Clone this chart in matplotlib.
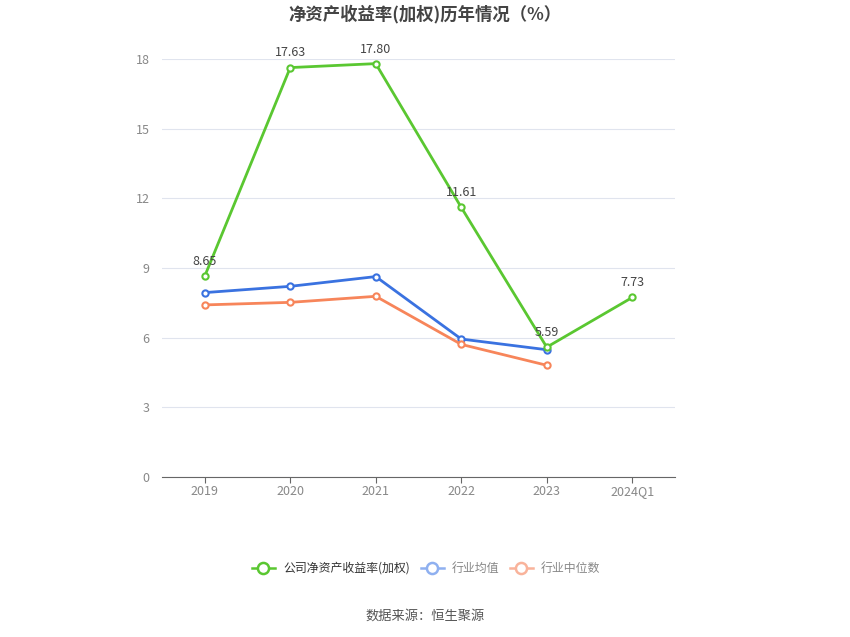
import matplotlib.pyplot as plt

plt.rcParams['font.family'] = ['Noto Sans CJK SC', 'DejaVu Sans']

# -----------------------------------------
# DATA
# -----------------------------------------
years = ["2019", "2020", "2021", "2022", "2023", "2024Q1"]
company = [8.65, 17.63, 17.80, 11.61, 5.59, 7.73]
industry_avg = [7.94, 8.21, 8.63, 5.94, 5.48]
industry_median = [7.41, 7.52, 7.78, 5.71, 4.81]
yticks = [0, 3, 6, 9, 12, 15, 18]

green = "#5ac731"
blue = "#3a72e0"
orange = "#f7855a"

# -----------------------------------------
# PLOT
# -----------------------------------------
fig = plt.figure(figsize=(8.5, 6.37), dpi=100)
ax = fig.add_axes([0.1906, 0.2512, 0.6035, 0.6562])

x = list(range(len(years)))

ax.plot(x[:len(industry_avg)], industry_avg, color=blue, lw=2, marker='o', ms=4.5,
        mfc='white', mec=blue, mew=1.5, zorder=3)
ax.plot(x[:len(industry_median)], industry_median, color=orange, lw=2, marker='o', ms=4.5,
        mfc='white', mec=orange, mew=1.5, zorder=3)
ax.plot(x, company, color=green, lw=2, marker='o', ms=4.5,
        mfc='white', mec=green, mew=1.5, zorder=4)

for xi, v in zip(x, company):
    ax.text(xi, v + 0.35, f"{v:.2f}", ha='center', va='bottom', fontsize=9, color='#444444', zorder=5)

ax.set_xlim(-0.5, len(years) - 0.5)
ax.set_ylim(0, 18)
ax.set_yticks(yticks)
ax.set_yticklabels([str(t) for t in yticks])
ax.set_xticks(x)
ax.set_xticklabels(years)

ax.grid(axis='y', color='#e0e4ee', lw=0.8)
ax.set_axisbelow(True)
for s in ['top', 'right', 'left']:
    ax.spines[s].set_visible(False)
ax.spines['bottom'].set_color('#666666')
ax.tick_params(axis='y', length=0, labelsize=9, colors='#888888', pad=9)
ax.tick_params(axis='x', length=4, color='#666666', labelsize=9, colors='#888888', pad=2)

fig.text(0.5, 1 - 14 / 637, "净资产收益率(加权)历年情况（%）", ha='center', va='center',
         fontsize=12.5, fontweight='bold', color='#444444')

# legend
ly = 1 - 568 / 637
items = [("公司净资产收益率(加权)", green, '#333333', 252 / 850),
         ("行业均值", '#8fb0f0', '#888888', 421 / 850),
         ("行业中位数", '#f9b39b', '#888888', 510 / 850)]
for label, c, tc, lx in items:
    fig.lines.append(plt.Line2D([lx, lx + 0.027], [ly, ly], transform=fig.transFigure,
                                color=c, lw=1.8))
    fig.lines.append(plt.Line2D([lx + 0.0135], [ly], transform=fig.transFigure, color=c,
                                marker='o', ms=8, mfc='white', mec=c, mew=1.8))
    fig.text(lx + 0.0365, ly, label, ha='left', va='center', fontsize=8.6, color=tc)

fig.text(0.5, 1 - 616 / 637, "数据来源：恒生聚源", ha='center', va='center',
         fontsize=9.5, color='#555555')

plt.savefig("out.png", dpi=100)
